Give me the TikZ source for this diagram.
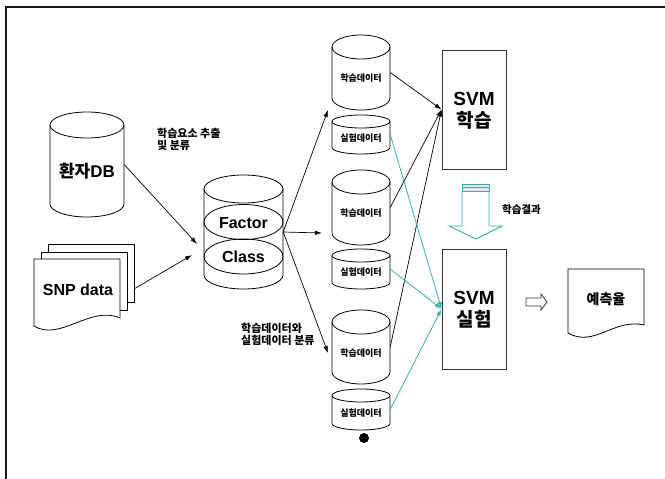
\documentclass[tikz,border=0pt]{standalone}
\usepackage{fontspec}
\setmainfont{Liberation Sans}
\newfontfamily\kr{Noto Sans CJK KR}
\usetikzlibrary{arrows.meta,calc}
\definecolor{tealline}{RGB}{52,178,172}
\definecolor{tealpale}{RGB}{214,240,238}

% cylinder: name, centre x, top y, bottom y, x radius, y radius, label text, label font
\newcommand\dbcyl[8]{%
  \node[inner sep=0, minimum width={2*#5pt}, minimum height={(#4-#3)*1pt}] (#1) at (#2,{(#3+#4)/2}) {};
  \draw[body] (#2-#5,#3+#6) -- (#2-#5,#4-#6)
    arc[start angle=180, end angle=360, x radius=#5pt, y radius=#6pt] -- (#2+#5,#3+#6);
  \draw[body] (#2,#3+#6) ellipse [x radius=#5pt, y radius=#6pt];
  \node[inner sep=0, font=#8] (#1t) at (#2,{(#3+#6+#4)/2}) {#7};
}

\begin{document}
\begin{tikzpicture}[x=1pt, y=-1pt,
  body/.style={draw=black, line width=0.8pt},
  page/.style={draw=black, fill=white, line width=0.8pt},
  box/.style={draw=black!80, line width=0.9pt, inner sep=0},
  arr/.style={draw=black, line width=0.7pt, -{Latex[length=7pt,width=4.5pt]}},
  tarr/.style={draw=tealline, line width=0.8pt, -{Latex[length=7pt,width=4.5pt]}},
  hollow/.style={draw=tealline, line width=0.9pt},
  small/.style={font=\kr\bfseries\fontsize{9}{10}\selectfont},
  note/.style={inner sep=0, align=left, font=\kr\bfseries\fontsize{11}{12}\selectfont},
]
\useasboundingbox (0,0) rectangle (665,479);
\fill[white] (0,0) rectangle (665,479);

% outer frame (left and top edges only)
\draw[line width=1.5pt, black!90] (6,479) -- (6,7) -- (665,7);

% patient database
\dbcyl{db}{87}{112}{217}{37}{13}{{\kr 환자}DB}{\bfseries\fontsize{17}{20}\selectfont}

% stacked SNP data documents
\draw[page] (48,244) rectangle (134,302);
\draw[page] (41,252) rectangle (127,310);
\draw[page] (34,259) -- (120,259) -- (120,318)
  .. controls (90,305) and (60,342) .. (34,326) -- cycle;
\node[inner sep=0, font=\bfseries\fontsize{16}{18}\selectfont] (snp) at (78,290) {SNP data};
\coordinate (snpout) at (134,289);

% feature extraction label
\node[note, anchor=north west] (extract) at (157,128) {학습요소 추출\\및 분류};

% central cylinder with Factor and Class layers
\node[inner sep=0, minimum width=79pt, minimum height=114pt] (cen) at (243.5,232) {};
\draw[body] (204,189) -- (204,275) arc[start angle=180, end angle=360, x radius=39.5pt, y radius=14pt] -- (283,189);
\draw[body] (243.5,189) ellipse [x radius=39.5pt, y radius=14pt];
\draw[body] (243.5,222) ellipse [x radius=39.5pt, y radius=17.5pt];
\draw[body] (243.5,256.5) ellipse [x radius=39.5pt, y radius=17.5pt];
\node[inner sep=0, font=\bfseries\fontsize{16}{18}\selectfont] (factor) at (243.5,223) {Factor};
\node[inner sep=0, font=\bfseries\fontsize{16}{18}\selectfont] (class) at (243.5,257) {Class};

\coordinate (into1) at (197,244);
\coordinate (into2) at (192,255);
\draw[arr] (db.east) -- (into1);
\draw[arr] (snpout) -- (into2);

% split into training / test sets
\coordinate (split1) at (328,110);
\coordinate (split2) at (322,233);
\coordinate (split3) at (328,353);
\draw[arr] (cen.east) -- (split1);
\draw[arr] (cen.east) -- (split2);
\draw[arr] (cen.east) -- (split3);
\node[note, anchor=north west] (splitlbl) at (241,323) {학습데이터와\\실험데이터 분류};

% training and test data cylinders
\dbcyl{hak1}{361}{35}{110}{29}{12}{학습데이터}{\kr\bfseries\fontsize{9}{10}\selectfont}
\dbcyl{sil1}{361}{115}{154}{29}{6.5}{실험데이터}{\kr\bfseries\fontsize{9}{10}\selectfont}
\dbcyl{hak2}{361}{170}{245}{29}{12}{학습데이터}{\kr\bfseries\fontsize{9}{10}\selectfont}
\dbcyl{sil2}{361}{249}{289}{29}{6.5}{실험데이터}{\kr\bfseries\fontsize{9}{10}\selectfont}
\dbcyl{hak3}{361}{310}{384}{29}{12}{학습데이터}{\kr\bfseries\fontsize{9}{10}\selectfont}
\dbcyl{sil3}{361}{389}{430}{29}{6.5}{실험데이터}{\kr\bfseries\fontsize{9}{10}\selectfont}
\fill[black] (364,438) circle[radius=5pt];

% SVM boxes
\node[box, minimum width=64pt, minimum height=119pt] (learn) at (474,109.5) {};
\node[inner sep=0, align=center, font=\bfseries\fontsize{19}{22}\selectfont] (learnt) at (474,111) {SVM\\{\kr 학습}};
\node[box, minimum width=64pt, minimum height=120pt] (test) at (474,309) {};
\node[inner sep=0, align=center, font=\bfseries\fontsize{19}{22}\selectfont] (testt) at (474,310) {SVM\\{\kr 실험}};

% training data feeds the learner, test data feeds the tester
\draw[arr] (hak1.east) -- (learn.west);
\draw[arr] (hak2.east) -- (learn.west);
\draw[arr] (hak3.east) -- (learn.west);
\draw[tarr] (sil1.east) -- (test.west);
\draw[tarr] (sil2.east) -- (test.west);
\draw[tarr] (sil3.east) -- (test.west);

% striped hollow arrow: learning result passed down
\draw[hollow, fill=tealpale] (462,184) rectangle (489,187.5);
\draw[hollow, fill=tealpale] (462,187.5) rectangle (489,191);
\draw[hollow] (462,191) -- (462,226) -- (449,226) -- (476,239) -- (502,226) -- (489,226) -- (489,191);
\node[note, anchor=west, font=\kr\bfseries\fontsize{10.5}{12}\selectfont] (result) at (502,210) {학습결과};

% small hollow arrow to the output
\draw[line width=0.8pt, black!80] (526,298) -- (541,298) -- (541,294) -- (547,302) -- (541,310) -- (541,306) -- (526,306) -- cycle;

% prediction rate document
\draw[page] (568,269) -- (644,269) -- (644,325)
  .. controls (614,318) and (594,348) .. (568,333) -- cycle;
\node[inner sep=0, font=\kr\bfseries\fontsize{14}{16}\selectfont] (rate) at (606,299) {예측율};
\end{tikzpicture}
\end{document}
